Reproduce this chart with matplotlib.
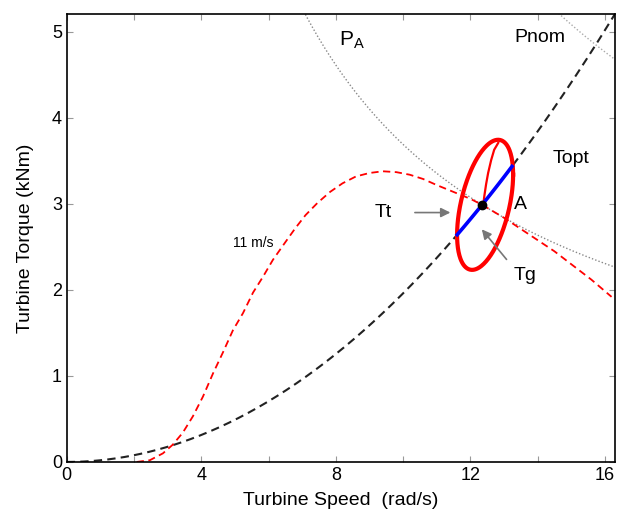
import numpy as np
import matplotlib
matplotlib.use("Agg")
import matplotlib.pyplot as plt

plt.rcParams["font.family"] = ["Liberation Sans", "DejaVu Sans"]

# ----------------------------
# Data
# ----------------------------
X_MAX = 16.3
Y_MAX = 5.21

# operating point A
A_SPEED = 12.35
A_TORQUE = 2.99

# optimal torque curve T = K_OPT * w^2
K_OPT = A_TORQUE / A_SPEED ** 2

# constant power hyperbolas T = P / w
P_A = A_SPEED * A_TORQUE
P_NOM = 76.3

# 11 m/s turbine torque curve
wind_speed = [2.08, 2.47, 2.86, 3.15, 3.45, 3.75, 4.05, 4.35, 4.64, 4.94,
              5.24, 5.54, 5.83, 6.13, 6.49, 6.8, 7.1, 7.45, 7.83, 8.2, 8.6,
              9.0, 9.4, 9.8, 10.2, 10.6, 11.0, 11.5, 12.0, 12.35, 13.0, 13.5,
              14.0, 14.5, 15.0, 15.6, 16.2]
wind_torque = [0.0, 0.02, 0.1, 0.2, 0.34, 0.53, 0.76, 1.03, 1.27, 1.53,
               1.73, 1.97, 2.15, 2.35, 2.55, 2.72, 2.87, 3.01, 3.14, 3.24,
               3.32, 3.36, 3.38, 3.37, 3.34, 3.29, 3.22, 3.14, 3.06, 2.99,
               2.84, 2.71, 2.58, 2.45, 2.3, 2.12, 1.92]

# oscillation ellipse: centre + two half-axis vectors (speed, torque)
ell_center = (12.44, 2.99)
ell_u = (0.833, 0.351)
ell_v = (0.0, -0.670)

# inner arc from A up to the ellipse top
arc_speed = [12.38, 12.42, 12.47, 12.53, 12.62, 12.71, 12.83]
arc_torque = [2.98, 3.10, 3.23, 3.36, 3.51, 3.63, 3.71]

# blue segment along Topt
seg_range = (11.61, 13.24)

x_ticks = [0, 2, 4, 6, 8, 10, 12, 14, 16]
x_tick_labels = ["0", "", "4", "", "8", "", "12", "", "16"]
y_ticks = [0, 1, 2, 3, 4, 5]


def ellipse(c, u, v, n=300):
    t = np.linspace(0, 2 * np.pi, n)
    xs = c[0] + u[0] * np.cos(t) + v[0] * np.sin(t)
    ys = c[1] + u[1] * np.cos(t) + v[1] * np.sin(t)
    return xs, ys


fig = plt.figure(figsize=(6.18, 5.15), dpi=100)
ax = fig.add_axes([0.108, 0.103, 0.887, 0.870])

w = np.linspace(0, X_MAX, 400)
ax.plot(w, K_OPT * w ** 2, color="#222222", lw=1.5, ls=(0, (4, 2.5)))

wh = np.linspace(5, X_MAX, 300)
ax.plot(wh, P_A / wh, color="#888888", lw=1.0, ls=(0, (1, 1.5)))
ax.plot(wh, P_NOM / wh, color="#aaaaaa", lw=1.0, ls=(0, (1, 1.5)))

ax.plot(wind_speed, wind_torque, color="red", lw=1.3, ls=(0, (4, 2.5)))

ex, ey = ellipse(ell_center, ell_u, ell_v)
ax.plot(ex, ey, color="red", lw=3.0)
ax.plot(arc_speed, arc_torque, color="red", lw=1.6)

ws = np.linspace(seg_range[0], seg_range[1], 50)
ax.plot(ws, K_OPT * ws ** 2, color="blue", lw=2.6)

ax.plot([A_SPEED], [A_TORQUE], "o", color="black", ms=6, zorder=5)

# annotations
ax.annotate("", xy=(11.49, 2.9), xytext=(10.27, 2.9),
            arrowprops=dict(arrowstyle="-|>", color="#777777", lw=1.2,
                            mutation_scale=14))
ax.text(9.4, 2.9, "Tt", fontsize=14, ha="center", va="center")
ax.annotate("", xy=(12.29, 2.73), xytext=(13.13, 2.33),
            arrowprops=dict(arrowstyle="-|>", color="#777777", lw=1.2,
                            mutation_scale=14))
ax.text(13.63, 2.17, "Tg", fontsize=14, ha="center", va="center")
ax.text(13.48, 2.99, "A", fontsize=14, ha="center", va="center")
ax.text(15.0, 3.53, "Topt", fontsize=14, ha="center", va="center")
ax.text(8.48, 4.9, r"$\mathregular{P_A}$", fontsize=15, ha="center", va="center")
ax.text(14.08, 4.94, "Pnom", fontsize=14, ha="center", va="center")
ax.text(5.54, 2.55, "11 m/s", fontsize=10, ha="center", va="center")

ax.set_xlim(0, X_MAX)
ax.set_ylim(0, Y_MAX)
ax.set_xticks(x_ticks)
ax.set_xticklabels(x_tick_labels)
ax.set_yticks(y_ticks)
ax.tick_params(direction="in", top=True, right=True, labelsize=13, length=4,
               color="#999999")
for s in ax.spines.values():
    s.set_linewidth(1.2)
ax.set_xlabel("Turbine Speed  (rad/s)", fontsize=14, labelpad=6)
ax.set_ylabel("Turbine Torque (kNm)", fontsize=14, labelpad=13)

fig.savefig("out.png", dpi=100)
